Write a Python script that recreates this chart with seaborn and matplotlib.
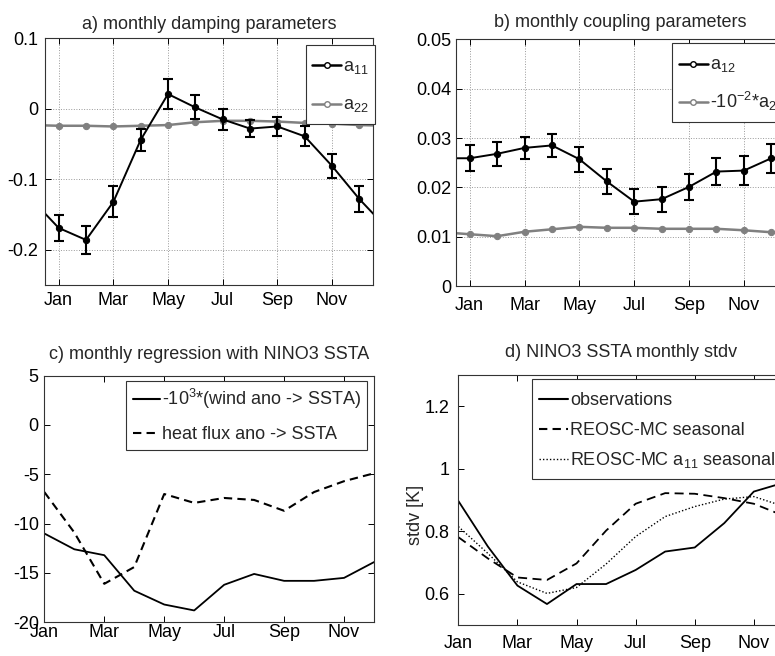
import numpy as np
import pandas as pd
import matplotlib
matplotlib.use('Agg')
import matplotlib.pyplot as plt
from matplotlib.lines import Line2D
from matplotlib.legend_handler import HandlerLine2D
import seaborn as sns

# meses
meses = list(range(1, 13))
rotulos_x = ['Jan', 'Mar', 'May', 'Jul', 'Sep', 'Nov']
ticks_x = [1, 3, 5, 7, 9, 11]

# a) damping
a11 = [-0.169, -0.186, -0.132, -0.044, 0.021, 0.002, -0.015, -0.028, -0.025, -0.039, -0.081, -0.128]
a11_err = [0.018, 0.020, 0.022, 0.016, 0.021, 0.017, 0.015, 0.012, 0.013, 0.014, 0.017, 0.018]
a22 = [-0.024, -0.024, -0.025, -0.024, -0.023, -0.019, -0.017, -0.017, -0.018, -0.020, -0.021, -0.023]

# b) coupling
a12 = [0.0259, 0.0268, 0.0280, 0.0285, 0.0257, 0.0212, 0.0171, 0.0176, 0.0201, 0.0232, 0.0234, 0.0259]
a12_err = [0.0026, 0.0024, 0.0023, 0.0024, 0.0025, 0.0026, 0.0025, 0.0025, 0.0026, 0.0028, 0.0029, 0.0029]
a21_esc = [0.0105, 0.0101, 0.0110, 0.0115, 0.0120, 0.0118, 0.0118, 0.0116, 0.0116, 0.0116, 0.0113, 0.0109]

# c) regressao
vento = [-11.0, -12.6, -13.2, -16.8, -18.2, -18.8, -16.2, -15.1, -15.8, -15.8, -15.5, -13.9]
calor = [-6.8, -10.9, -16.1, -14.4, -7.0, -7.9, -7.4, -7.6, -8.7, -6.8, -5.7, -4.9]

# d) desvio padrao
obs = [0.897, 0.751, 0.626, 0.567, 0.631, 0.631, 0.676, 0.735, 0.748, 0.826, 0.927, 0.955]
reosc = [0.781, 0.713, 0.652, 0.644, 0.697, 0.802, 0.888, 0.922, 0.920, 0.906, 0.888, 0.850]
reosc_a11 = [0.815, 0.729, 0.638, 0.601, 0.620, 0.695, 0.783, 0.847, 0.879, 0.903, 0.911, 0.880]

sns.set_theme(style='ticks')
plt.rcParams['font.family'] = ['Liberation Sans', 'DejaVu Sans']
plt.rcParams['mathtext.default'] = 'regular'

Cinza = '#808080'
Tam_Fonte = 13


class LinhaDeslocada(HandlerLine2D):
    # desce a amostra da legenda para ficar no meio do texto
    def __init__(self, desloc, **kw):
        super().__init__(**kw)
        self.desloc = desloc

    def create_artists(self, *args, **kw):
        arts = super().create_artists(*args, **kw)
        for a in arts:
            a.set_ydata(np.asarray(a.get_ydata(), dtype=float) - self.desloc)
        return arts


def periodico(valores):
    # repete dez antes de jan e jan depois de dez
    return pd.DataFrame({'mes': [0] + meses + [13], 'valor': [valores[-1]] + valores + [valores[0]]})


def estilo(ax, xpad, ypad, grade):
    ax.set_xticks(ticks_x)
    ax.set_xticklabels(rotulos_x)
    ax.tick_params(direction='in', length=4, width=0.7, top=True, right=True,
                   labelsize=Tam_Fonte, colors='black')
    ax.tick_params(axis='x', pad=xpad)
    ax.tick_params(axis='y', pad=ypad)
    for s in ax.spines.values():
        s.set_visible(True)
        s.set_color('#333333')
        s.set_linewidth(0.8)
    if grade:
        ax.grid(True, linestyle=':', color='#999999', linewidth=0.7)
    else:
        ax.grid(False)
    ax.set_xlabel('')
    ax.set_ylabel('')


def legenda(ax, handles, labels, anchor, spacing, hh, hlen=1.6):
    desloc = 0.55 * 0.35 * Tam_Fonte * (hh - 0.7)
    leg = ax.legend(handles, labels, loc='upper left', bbox_to_anchor=anchor,
                    fontsize=Tam_Fonte, frameon=True, fancybox=False, framealpha=1,
                    edgecolor='#333333', borderpad=0.35, labelspacing=spacing,
                    handlelength=hlen, handleheight=hh, handletextpad=0.12, borderaxespad=0,
                    handler_map={Line2D: LinhaDeslocada(desloc)})
    leg.get_frame().set_linewidth(0.8)
    return leg


fig = plt.figure(figsize=(7.75, 6.56), dpi=100)
fig.set_facecolor('white')

# a)
ax1 = fig.add_axes([0.0581, 0.5655, 0.4232, 0.376])
sns.lineplot(data=periodico(a22), x='mes', y='valor', ax=ax1, color=Cinza, linewidth=1.8,
             marker='o', markersize=4.5, markeredgecolor=Cinza)
sns.lineplot(data=periodico(a11), x='mes', y='valor', ax=ax1, color='black', linewidth=1.4,
             marker='o', markersize=4.5, markeredgecolor='black')
ax1.errorbar(meses, a11, yerr=a11_err, fmt='none', ecolor='black', elinewidth=1.5,
             capsize=3.5, capthick=1.5)
ax1.set_xlim(0.5, 12.5)
ax1.set_ylim(-0.25, 0.1)
ax1.set_yticks([-0.2, -0.1, 0, 0.1])
ax1.set_yticklabels(['-0.2', '-0.1', '0', '0.1'])
estilo(ax1, 5, 5, True)
ax1.set_title('a) monthly damping parameters', fontsize=Tam_Fonte, pad=7)
h1 = [Line2D([], [], color='black', lw=1.8, marker='o', ms=4, mfc='white', mec='black'),
      Line2D([], [], color=Cinza, lw=1.8, marker='o', ms=4, mfc='white', mec=Cinza)]
legenda(ax1, h1, ['a$_{11}$', 'a$_{22}$'], (0.795, 0.975), 0.59, 2.0)

# b)
ax2 = fig.add_axes([0.5884, 0.564, 0.4245, 0.376])
sns.lineplot(data=periodico(a21_esc), x='mes', y='valor', ax=ax2, color=Cinza, linewidth=1.8,
             marker='o', markersize=4.5, markeredgecolor=Cinza)
sns.lineplot(data=periodico(a12), x='mes', y='valor', ax=ax2, color='black', linewidth=1.4,
             marker='o', markersize=4.5, markeredgecolor='black')
ax2.errorbar(meses, a12, yerr=a12_err, fmt='none', ecolor='black', elinewidth=1.5,
             capsize=3.5, capthick=1.5)
ax2.set_xlim(0.5, 12.5)
ax2.set_ylim(0, 0.05)
ax2.set_yticks([0, 0.01, 0.02, 0.03, 0.04, 0.05])
ax2.set_yticklabels(['0', '0.01', '0.02', '0.03', '0.04', '0.05'])
estilo(ax2, 8, 3, True)
ax2.set_title('b) monthly coupling parameters', fontsize=Tam_Fonte, pad=9)
h2 = [Line2D([], [], color='black', lw=1.8, marker='o', ms=4, mfc='white', mec='black'),
      Line2D([], [], color=Cinza, lw=1.8, marker='o', ms=4, mfc='white', mec=Cinza)]
legenda(ax2, h2, ['a$_{12}$', '-10$^{-2}$*a$_{21}$'], (0.658, 0.985), 0.59, 2.0)

# c)
ax3 = fig.add_axes([0.0572, 0.0514, 0.4254, 0.376])
df_c = pd.DataFrame({'mes': meses, 'vento': vento, 'calor': calor})
sns.lineplot(data=df_c, x='mes', y='vento', ax=ax3, color='black', linewidth=1.3)
sns.lineplot(data=df_c, x='mes', y='calor', ax=ax3, color='black', linewidth=1.5,
             linestyle=(0, (4, 2.5)))
ax3.set_xlim(1, 12)
ax3.set_ylim(-20, 5)
ax3.set_yticks([-20, -15, -10, -5, 0, 5])
ax3.set_yticklabels(['-20', '-15', '-10', '-5', '0', '5'])
estilo(ax3, 1, 4, False)
ax3.set_title('c) monthly regression with NINO3 SSTA', fontsize=Tam_Fonte, pad=12)
h3 = [Line2D([], [], color='black', lw=1.5),
      Line2D([], [], color='black', lw=1.5, linestyle=(0, (4, 2.5)))]
legenda(ax3, h3, ['-10$^{3}$*(wind ano -> SSTA)', 'heat flux ano -> SSTA'], (0.249, 0.98), 0.6, 1.5, 1.5)

# d)
ax4 = fig.add_axes([0.5914, 0.0473, 0.4194, 0.381])
df_d = pd.DataFrame({'mes': meses, 'obs': obs, 'reosc': reosc, 'reosc_a11': reosc_a11})
sns.lineplot(data=df_d, x='mes', y='obs', ax=ax4, color='black', linewidth=1.3)
sns.lineplot(data=df_d, x='mes', y='reosc', ax=ax4, color='black', linewidth=1.3,
             linestyle=(0, (5, 3)))
sns.lineplot(data=df_d, x='mes', y='reosc_a11', ax=ax4, color='black', linewidth=1.0,
             linestyle=(0, (1, 1.5)))
ax4.set_xlim(1, 12)
ax4.set_ylim(0.5, 1.3)
ax4.set_yticks([0.6, 0.8, 1.0, 1.2])
ax4.set_yticklabels(['0.6', '0.8', '1', '1.2'])
estilo(ax4, 7, 6.5, False)
ax4.set_ylabel('stdv [K]', fontsize=Tam_Fonte)
ax4.yaxis.set_label_coords(-0.105, 0.44)
ax4.set_title('d) NINO3 SSTA monthly stdv', fontsize=Tam_Fonte, pad=13)
h4 = [Line2D([], [], color='black', lw=1.5),
      Line2D([], [], color='black', lw=1.5, linestyle=(0, (4, 2.5))),
      Line2D([], [], color='black', lw=1.0, linestyle=(0, (1, 1.5)))]
legenda(ax4, h4, ['observations', 'REOSC-MC seasonal', 'REOSC-MC a$_{11}$ seasonal'],
        (0.228, 0.985), 0.15, 1.95)

fig.savefig('out.png', dpi=100)
